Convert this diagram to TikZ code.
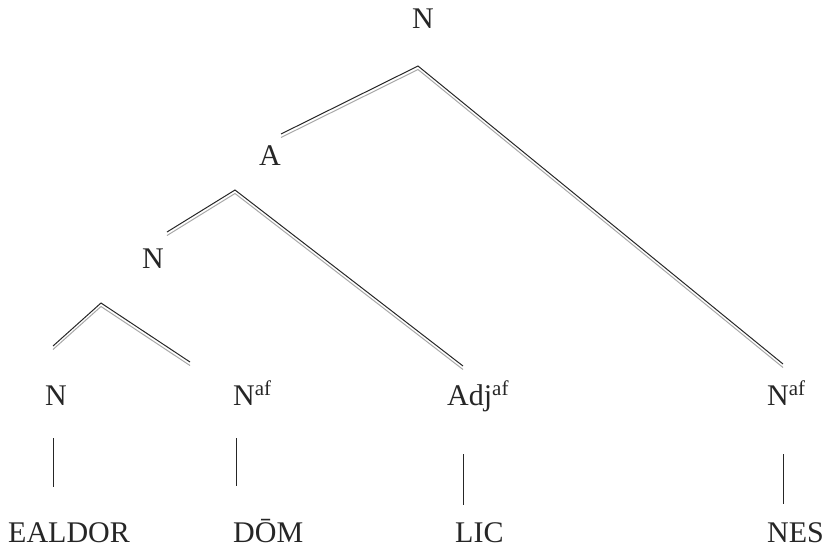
\documentclass[tikz,border=0pt]{standalone}
\usepackage{fontspec}
\setmainfont{Liberation Serif}
\usepackage{xcolor}
\definecolor{ink}{RGB}{38,38,38}
\definecolor{shade}{RGB}{168,168,168}
\usetikzlibrary{positioning}
\tikzset{
  %% category labels and words
  cat/.style={anchor=base west, inner sep=0pt,
              font=\fontsize{30}{36}\selectfont, text=ink},
  %% tree branches: dark line with a grey copy beneath
  branch/.style={draw=ink, line width=1pt,
                 preaction={draw=shade, line width=1pt,
                            transform canvas={yshift=-3.5pt}}},
  stem/.style={draw=ink, line width=0.8pt},
}
\newcommand{\af}{\textsuperscript{af}}

\begin{document}
\begin{tikzpicture}[x=1pt,y=-1pt]
\useasboundingbox (0,0) rectangle (827,547);

%% labels
\node[cat] (root) at (412,28)  {N};
\node[cat] (adjA) at (259,165) {A};
\node[cat] (nmid) at (142,268) {N};
\node[cat] (leafN)   at (45,405)  {N};
\node[cat] (leafDom) at (233,405) {N\af};
\node[cat] (leafLic) at (447,405) {Adj\af};
\node[cat] (leafNes) at (767,405) {N\af};

%% words
\node[cat] (wEaldor) at (8,542)   {EALDOR};
\node[cat] (wDom)    at (233,542) {DŌM};
\node[cat] (wLic)    at (455,542) {LIC};
\node[cat] (wNes)    at (767,542) {NES};

%% branch points
\coordinate (apexRoot) at (418,66);
\coordinate (endA)     at (281,134);
\coordinate (endNes)   at (783,364);
\coordinate (apexA)    at (235,190);
\coordinate (endNmid)  at (167,232);
\coordinate (endLic)   at (463,366);
\coordinate (apexN)    at (101,303);
\coordinate (endN)     at (53,346);
\coordinate (endDom)   at (190,362);

\draw[branch] (endA) -- (apexRoot) -- (endNes);
\draw[branch] (endNmid) -- (apexA) -- (endLic);
\draw[branch] (endN) -- (apexN) -- (endDom);

%% stems down to the words
\coordinate (sN1) at (53,438);   \coordinate (sN2) at (53,487);
\coordinate (sD1) at (236,438);  \coordinate (sD2) at (236,486);
\coordinate (sL1) at (463,454);  \coordinate (sL2) at (463,505);
\coordinate (sS1) at (783,454);  \coordinate (sS2) at (783,504);
\draw[stem] (sN1) -- (sN2);
\draw[stem] (sD1) -- (sD2);
\draw[stem] (sL1) -- (sL2);
\draw[stem] (sS1) -- (sS2);
\end{tikzpicture}
\end{document}
